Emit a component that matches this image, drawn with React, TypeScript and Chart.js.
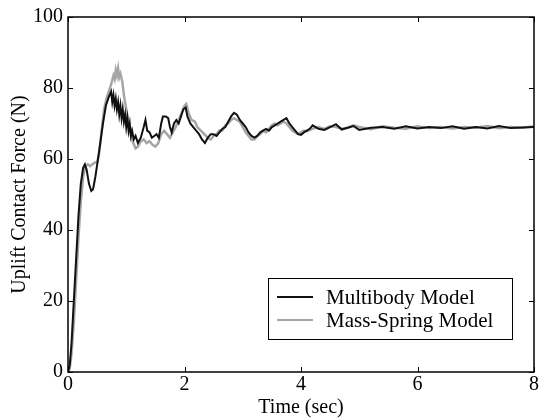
import React, { useEffect, useRef } from "react";
import { Chart, registerables } from "chart.js";

Chart.register(...registerables);

const xTicks = [0, 2, 4, 6, 8];
const yTicks = [0, 20, 40, 60, 80, 100];

const seriesNames = ["Multibody Model", "Mass-Spring Model"];

const multibodyT = [
  0, 0.03, 0.06, 0.1, 0.14, 0.18, 0.22, 0.26, 0.29, 0.32, 0.36, 0.4, 0.43, 0.47, 0.51, 0.55, 0.6, 0.65, 0.7, 0.74,
  0.76, 0.78, 0.8, 0.82, 0.84, 0.86, 0.88, 0.9, 0.92, 0.94, 0.96, 0.98, 1.0, 1.02, 1.04, 1.06, 1.08, 1.1, 1.13, 1.16,
  1.2, 1.25, 1.3, 1.33, 1.36, 1.4, 1.44, 1.48, 1.52, 1.56, 1.6, 1.63, 1.68, 1.72, 1.75, 1.78, 1.82, 1.86, 1.9, 1.94,
  1.98, 2.02, 2.05, 2.1, 2.15, 2.2, 2.25, 2.3, 2.35, 2.4, 2.45, 2.5, 2.55, 2.6, 2.65, 2.7, 2.75, 2.8, 2.85, 2.9,
  2.95, 3.0, 3.05, 3.1, 3.15, 3.2, 3.25, 3.3, 3.35, 3.4, 3.45, 3.5, 3.55, 3.6, 3.65, 3.7, 3.75, 3.8, 3.85, 3.9,
  3.95, 4.0, 4.05, 4.1, 4.15, 4.2, 4.3, 4.4, 4.5, 4.6, 4.7, 4.8, 4.9, 5.0, 5.2, 5.4, 5.6, 5.8, 6.0, 6.2,
  6.4, 6.6, 6.8, 7.0, 7.2, 7.4, 7.6, 7.8, 8.0,
];
const multibodyF = [
  0, 2, 8, 20, 32, 44, 53, 57.5, 58.5, 57, 53, 51, 51.5, 55, 59.5, 64, 70, 75, 77.5, 79,
  76, 78, 75, 77, 74, 76, 72.5, 75, 71.5, 74, 70.5, 72.5, 69, 71.5, 68, 70, 66.5, 68, 65.5, 66.5,
  64.5, 66, 69, 71, 68, 67.5, 66, 66.5, 67, 66, 70, 72, 72, 71.5, 69, 67.5, 70, 71, 70, 72,
  74, 74.5, 72, 70, 69, 68, 67, 65.5, 64.5, 66, 67, 67, 66.5, 67.5, 68.5, 69, 70.5, 72, 73, 72.5,
  71, 70, 69, 67.5, 66.5, 66, 66.5, 67.5, 68, 68.5, 68, 69, 69.5, 70, 70.5, 71, 71.5, 70, 69, 68,
  67, 66.8, 67.5, 68, 68.5, 69.5, 68.5, 68.2, 69, 69.8, 68.3, 68.8, 69.3, 68.2, 68.8, 69, 68.5, 69.2, 68.6, 69,
  68.7, 69.2, 68.5, 69, 68.6, 69.3, 68.7, 68.9, 69,
];

const massSpringT = [
  0, 0.03, 0.06, 0.1, 0.14, 0.18, 0.22, 0.26, 0.3, 0.34, 0.38, 0.42, 0.46, 0.5, 0.53, 0.57, 0.62, 0.66, 0.7, 0.74,
  0.78, 0.8, 0.82, 0.84, 0.86, 0.88, 0.9, 0.93, 0.96, 1.0, 1.04, 1.08, 1.12, 1.16, 1.2, 1.25, 1.3, 1.35, 1.4, 1.45,
  1.5, 1.55, 1.6, 1.65, 1.7, 1.75, 1.8, 1.85, 1.9, 1.95, 2.0, 2.03, 2.07, 2.12, 2.18, 2.22, 2.28, 2.34, 2.4, 2.45,
  2.5, 2.55, 2.6, 2.65, 2.7, 2.75, 2.8, 2.85, 2.9, 2.95, 3.0, 3.05, 3.1, 3.15, 3.2, 3.25, 3.3, 3.35, 3.4, 3.45,
  3.5, 3.55, 3.6, 3.65, 3.7, 3.75, 3.8, 3.85, 3.9, 3.95, 4.0, 4.05, 4.1, 4.2, 4.3, 4.4, 4.5, 4.6, 4.7, 4.8,
  4.9, 5.0, 5.2, 5.4, 5.6, 5.8, 6.0, 6.2, 6.4, 6.6, 6.8, 7.0, 7.2, 7.4, 7.6, 7.8, 8.0,
];
const massSpringF = [
  0, 1, 5, 14, 26, 38, 48, 55, 58, 58.5, 58, 58.5, 59, 59, 61, 67, 74, 77, 79, 81,
  83.5, 82.5, 85, 83.5, 85.5, 83, 84, 82, 78, 74, 70, 67, 64.5, 63, 63.5, 65, 65.5, 64.5, 65, 64,
  63.5, 64.5, 67, 68, 67, 66, 67.5, 69, 71, 73, 75, 75.5, 73, 71, 70.5, 69, 68, 67, 66, 65.5,
  66.5, 67, 68, 68, 69.5, 70, 71, 71.5, 71, 70.5, 69, 67.5, 66.5, 65.5, 65.5, 66.5, 67, 68, 67.5, 68.5,
  69.5, 70, 69.5, 70, 70.5, 70, 69, 68, 67.5, 67, 67.5, 68, 67.8, 68.5, 69, 68.5, 69.2, 69, 68.5, 68.8,
  69.5, 69, 68.4, 69.2, 68.8, 68.5, 69.2, 68.7, 69, 68.6, 69, 68.8, 69.3, 68.7, 69, 68.8, 69.2,
];

const FONT = "'Liberation Serif', 'Times New Roman', serif";
const BLACK_LINE = "#111111";
const GRAY_LINE = "#a6a6a6";

const framePlugin = {
  id: "frameTicks",
  afterDatasetsDraw(chart: any) {
    const { ctx, chartArea } = chart;
    const xs = chart.scales.x;
    const ys = chart.scales.y;
    const { left, right, top, bottom } = chartArea;
    ctx.save();
    ctx.strokeStyle = "#000";
    ctx.lineWidth = 1.5;
    ctx.strokeRect(left, top, right - left, bottom - top);
    ctx.lineWidth = 1;
    const tl = 5;
    ctx.beginPath();
    xTicks.forEach((v) => {
      const px = Math.round(xs.getPixelForValue(v)) + 0.5;
      ctx.moveTo(px, bottom);
      ctx.lineTo(px, bottom - tl);
      ctx.moveTo(px, top);
      ctx.lineTo(px, top + tl);
    });
    yTicks.forEach((v) => {
      const py = Math.round(ys.getPixelForValue(v)) + 0.5;
      ctx.moveTo(left, py);
      ctx.lineTo(left + tl, py);
      ctx.moveTo(right, py);
      ctx.lineTo(right - tl, py);
    });
    ctx.stroke();

    // legend
    const x0 = left + 200;
    const x1 = right - 22;
    const y1 = bottom - 33;
    const y0 = y1 - 61;
    ctx.fillStyle = "#fff";
    ctx.fillRect(x0, y0, x1 - x0, y1 - y0);
    ctx.strokeStyle = "#000";
    ctx.lineWidth = 1;
    ctx.strokeRect(x0 + 0.5, y0 + 0.5, x1 - x0, y1 - y0);
    const rows = [
      { y: y0 + 19, color: BLACK_LINE, w: 2 },
      { y: y0 + 42, color: GRAY_LINE, w: 2 },
    ];
    rows.forEach((r, i) => {
      ctx.strokeStyle = r.color;
      ctx.lineWidth = r.w;
      ctx.beginPath();
      ctx.moveTo(x0 + 9, r.y);
      ctx.lineTo(x0 + 45, r.y);
      ctx.stroke();
      ctx.fillStyle = "#000";
      ctx.font = `21px ${FONT}`;
      ctx.textBaseline = "middle";
      ctx.textAlign = "left";
      ctx.fillText(seriesNames[i], x0 + 58, r.y + 1);
    });
    ctx.restore();
  },
};

export default function App() {
  const ref = useRef<HTMLCanvasElement>(null);
  useEffect(() => {
    if (!ref.current) return;
    const chart = new Chart(ref.current, {
      type: "line",
      data: {
        datasets: [
          {
            label: seriesNames[0],
            data: multibodyT.map((t, i) => ({ x: t, y: multibodyF[i] })),
            borderColor: BLACK_LINE,
            borderWidth: 2,
            pointRadius: 0,
            tension: 0,
          },
          {
            label: seriesNames[1],
            data: massSpringT.map((t, i) => ({ x: t, y: massSpringF[i] })),
            borderColor: GRAY_LINE,
            borderWidth: 2.5,
            pointRadius: 0,
            tension: 0,
          },
        ],
      },
      options: {
        animation: false,
        responsive: false,
        layout: { padding: { top: 13, right: 13, left: 0, bottom: 0 } },
        plugins: { legend: { display: false }, tooltip: { enabled: false } },
        scales: {
          x: {
            type: "linear",
            min: 0,
            max: 8,
            afterFit: (s: any) => {
              s.height = 48;
            },
            afterBuildTicks: (s: any) => {
              s.ticks = xTicks.map((v) => ({ value: v }));
            },
            ticks: { color: "#000", font: { family: FONT, size: 20 }, padding: 1 },
            grid: { display: false, drawTicks: false },
            border: { display: false },
            title: {
              display: true,
              text: "Time (sec)",
              color: "#000",
              font: { family: FONT, size: 20 },
              padding: { top: 0, bottom: 0 },
            },
          },
          y: {
            type: "linear",
            min: 0,
            max: 100,
            afterFit: (s: any) => {
              s.width = 68;
            },
            afterBuildTicks: (s: any) => {
              s.ticks = yTicks.map((v) => ({ value: v }));
            },
            ticks: { color: "#000", font: { family: FONT, size: 20 }, padding: 5 },
            grid: { display: false, drawTicks: false },
            border: { display: false },
            title: {
              display: true,
              text: "Uplift Contact Force (N)",
              color: "#000",
              font: { family: FONT, size: 20 },
              padding: { top: 8, bottom: 0 },
            },
          },
        },
      },
      plugins: [framePlugin],
    });
    return () => chart.destroy();
  }, []);
  return (
    <div style={{ position: "absolute", left: 0, top: 0, width: 547, height: 420, background: "#fff" }}>
      <canvas ref={ref} width={547} height={420} style={{ display: "block" }} />
    </div>
  );
}
